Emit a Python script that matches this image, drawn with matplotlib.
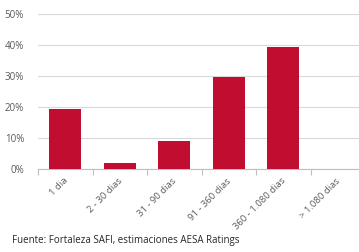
import numpy as np
import matplotlib.pyplot as plt

plt.rcParams['font.family'] = ['Open Sans', 'DejaVu Sans']

# plazos y porcentajes
categorias = ["1 dia", "2 - 30 dias", "31 - 90 dias", "91 - 360 dias",
              "360 - 1.080 dias", "> 1.080 dias"]
valores = [19.5, 1.9, 9.0, 29.7, 39.2, 0.0]
yticks = [0, 10, 20, 30, 40, 50]

fig = plt.figure(figsize=(3.59, 2.52), dpi=100)
ax = fig.add_axes([38/359, 1 - 169.3/252, 327/359, 155.6/252])

x = np.arange(len(categorias))
ax.bar(x, valores, width=0.59, color='#C00D30', zorder=3)

ax.set_xlim(-0.5, 5.5)
ax.set_ylim(0, 50)
ax.set_yticks(yticks)
ax.set_yticklabels([f"{v}%" for v in yticks], fontsize=7, color='#595959')
ax.yaxis.grid(True, color='#D9D9D9', linewidth=0.8, zorder=0)
ax.tick_params(axis='y', length=0, pad=10)

ax.set_xticks(x - 0.04)
ax.set_xticklabels(categorias, rotation=45, ha='right', rotation_mode='anchor',
                   fontsize=6.8, color='#595959')
ax.tick_params(axis='x', which='major', length=0, pad=5)
ax.set_xticks(np.arange(-0.5, 5.5, 1), minor=True)
ax.tick_params(axis='x', which='minor', length=4, color='#BFBFBF', width=0.8)

for s in ['top', 'right', 'left']:
    ax.spines[s].set_visible(False)
ax.spines['bottom'].set_color('#BFBFBF')
ax.spines['bottom'].set_linewidth(0.8)

fig.text(12/359, 1 - 240/252, "Fuente: Fortaleza SAFI, estimaciones AESA Ratings",
         fontsize=7, color='#262626', va='center')

fig.savefig("out.png", dpi=100)
